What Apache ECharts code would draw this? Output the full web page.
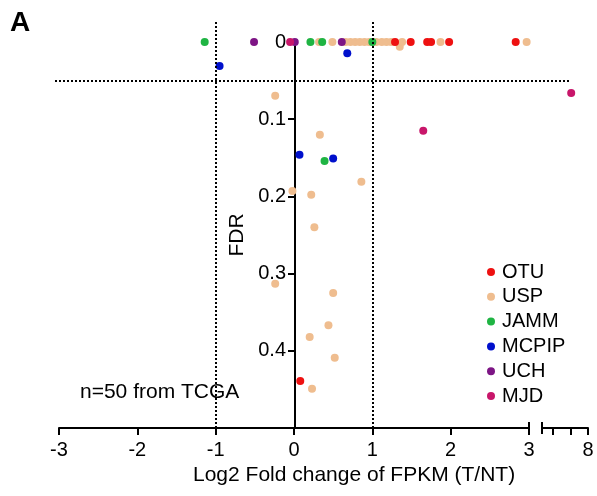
<!DOCTYPE html>
<html>
<head>
<meta charset="utf-8">
<script src="https://cdn.jsdelivr.net/npm/echarts@6/dist/echarts.min.js"></script>
<style>
html,body{margin:0;padding:0;background:#fff;}
#chart{width:597px;height:496px;}
</style>
</head>
<body>
<div id="chart"></div>
<script>
// ---- data (x = log2 fold change, y = FDR) ----
const seriesNames = ['OTU', 'USP', 'JAMM', 'MCPIP', 'UCH', 'MJD'];
const xTickLabels = [-3, -2, -1, 0, 1, 2, 3];
const xBreakTickLabels = [8];
const yTickLabels = [0, 0.1, 0.2, 0.3, 0.4];

const otu = [[1.29,0],[1.49,0],[1.70,0],[1.75,0],[1.98,0],[2.83,0],[0.08,0.439]];
const usp = [[0.32,0],[0.49,0],[0.66,0],[0.72,0],[0.78,0],[0.84,0],[0.90,0],[0.96,0],
             [1.05,0],[1.12,0],[1.18,0],[1.24,0],[1.35,0.006],[1.38,0],[1.87,0],[2.97,0],
             [-0.24,0.0695],[0.33,0.120],[0.86,0.181],[-0.02,0.193],[0.22,0.198],[0.26,0.240],
             [-0.24,0.313],[0.50,0.325],[0.44,0.367],[0.20,0.382],[0.52,0.409],[0.23,0.449]];
const jamm = [[-1.14,0],[0.21,0],[0.36,0],[1.00,0],[0.39,0.154]];
const mcpip = [[-0.95,0.031],[0.68,0.0146],[0.07,0.146],[0.50,0.151]];
const uch = [[-0.51,0],[0.01,0],[0.61,0]];
const mjd = [[-0.05,0],[1.65,0.115]];
const mjdBreak = [[7.05,0.066]];   // point beyond the axis break
const fcCutoffs = [-1, 1];
const fdrCutoff = [0.048];

const colors = {OTU:'#ee1111', USP:'#efbd8f', JAMM:'#1fb443', MCPIP:'#0010cc', UCH:'#7d1585', MJD:'#c8166a'};
const FONT = 'Liberation Sans, Arial, sans-serif';

const chart = echarts.init(document.getElementById('chart'), null, {renderer:'canvas'});

function sc(name, data, grid, z) {
  return {
    name: name, type: 'scatter', data: data,
    xAxisIndex: grid, yAxisIndex: grid,
    symbolSize: 8, z: z,
    itemStyle: {color: colors[name], opacity: 1},
    emphasis: {disabled: true}, clip: false
  };
}

const dotted = {color:'#000', width:2, type:[2,2]};
const gridBase = {outerBoundsMode:'none', containLabel:false};
const capStyle = {stroke:'#000', lineWidth:2};

const option = {
  animation: false,
  backgroundColor: '#fff',
  textStyle: {fontFamily: FONT},
  grid: [
    Object.assign({left: 59, right: 68, top: 42, bottom: 68}, gridBase),   // main plot
    Object.assign({left: 542, width: 46, top: 42, bottom: 68}, gridBase),  // after axis break
    Object.assign({left: 59, right: 68, top: 20, bottom: 68}, gridBase),   // vertical cutoff lines
    Object.assign({left: 55, right: 27, top: 42, bottom: 68}, gridBase)    // horizontal cutoff line
  ],
  xAxis: [
    {gridIndex:0, type:'value', min:xTickLabels[0], max:xTickLabels[xTickLabels.length-1], interval:1,
     axisLine:{onZero:false, lineStyle:{color:'#000', width:2}},
     axisTick:{length:7, lineStyle:{color:'#000', width:2}},
     axisLabel:{fontSize:20, color:'#000', margin:12, fontFamily:FONT},
     splitLine:{show:false}},
    {gridIndex:1, type:'value', min:5.4, max:8,
     axisLine:{onZero:false, lineStyle:{color:'#000', width:2}},
     axisTick:{length:7, lineStyle:{color:'#000', width:2}, customValues:[6,7,8]},
     axisLabel:{fontSize:20, color:'#000', margin:12, fontFamily:FONT, customValues:xBreakTickLabels},
     splitLine:{show:false}},
    {gridIndex:2, type:'value', min:-3, max:3, show:false},
    {gridIndex:3, type:'value', min:0, max:1, show:false}
  ],
  yAxis: [
    {gridIndex:0, type:'value', min:0, max:0.5, inverse:true, offset:-236,
     name:'FDR', nameLocation:'middle', nameGap:45, nameRotate:90,
     nameTextStyle:{fontSize:21, color:'#000', fontFamily:FONT},
     axisLine:{onZero:false, lineStyle:{color:'#000', width:2}},
     axisTick:{length:7, lineStyle:{color:'#000', width:2}, customValues:[0.1,0.2,0.3,0.4]},
     axisLabel:{fontSize:20, color:'#000', margin:9, fontFamily:FONT, customValues:yTickLabels},
     splitLine:{show:false}},
    {gridIndex:1, type:'value', min:0, max:0.5, inverse:true, show:false},
    {gridIndex:2, type:'value', min:0, max:1, show:false},
    {gridIndex:3, type:'value', min:0, max:0.5, inverse:true, show:false}
  ],
  legend: {
    orient:'vertical', left:482, top:257,
    data: seriesNames,
    icon:'circle', itemWidth:8, itemHeight:8, itemGap:4.8,
    textStyle:{fontSize:20, color:'#000', fontFamily:FONT, lineHeight:20, padding:[0,0,0,2]},
    selectedMode:false
  },
  graphic: [
    {type:'text', left:10, top:9, style:{text:'A', font:'bold 28px ' + FONT, fill:'#000'}},
    {type:'text', left:80, top:382, style:{text:'n=50 from TCGA', font:'21px ' + FONT, fill:'#000'}},
    {type:'text', left:193, top:465, style:{text:'Log2 Fold change of FPKM (T/NT)', font:'21px ' + FONT, fill:'#000'}},
    // axis-break end caps
    {type:'line', shape:{x1:529, y1:422, x2:529, y2:434}, style:capStyle},
    {type:'line', shape:{x1:542, y1:422, x2:542, y2:434}, style:capStyle}
  ],
  series: [
    {type:'scatter', data:[], xAxisIndex:2, yAxisIndex:2, silent:true,
     markLine:{silent:true, symbol:['none','none'], label:{show:false}, lineStyle:dotted,
               data: fcCutoffs.map(v => ({xAxis:v}))}},
    {type:'scatter', data:[], xAxisIndex:3, yAxisIndex:3, silent:true,
     markLine:{silent:true, symbol:['none','none'], label:{show:false}, lineStyle:dotted,
               data: fdrCutoff.map(v => ({yAxis:v}))}},
    sc('USP', usp, 0, 2),
    sc('JAMM', jamm, 0, 3),
    sc('MCPIP', mcpip, 0, 3),
    sc('UCH', uch, 0, 3),
    sc('MJD', mjd, 0, 3),
    sc('MJD', mjdBreak, 1, 3),
    sc('OTU', otu, 0, 4)
  ]
};
chart.setOption(option);
</script>
</body>
</html>
